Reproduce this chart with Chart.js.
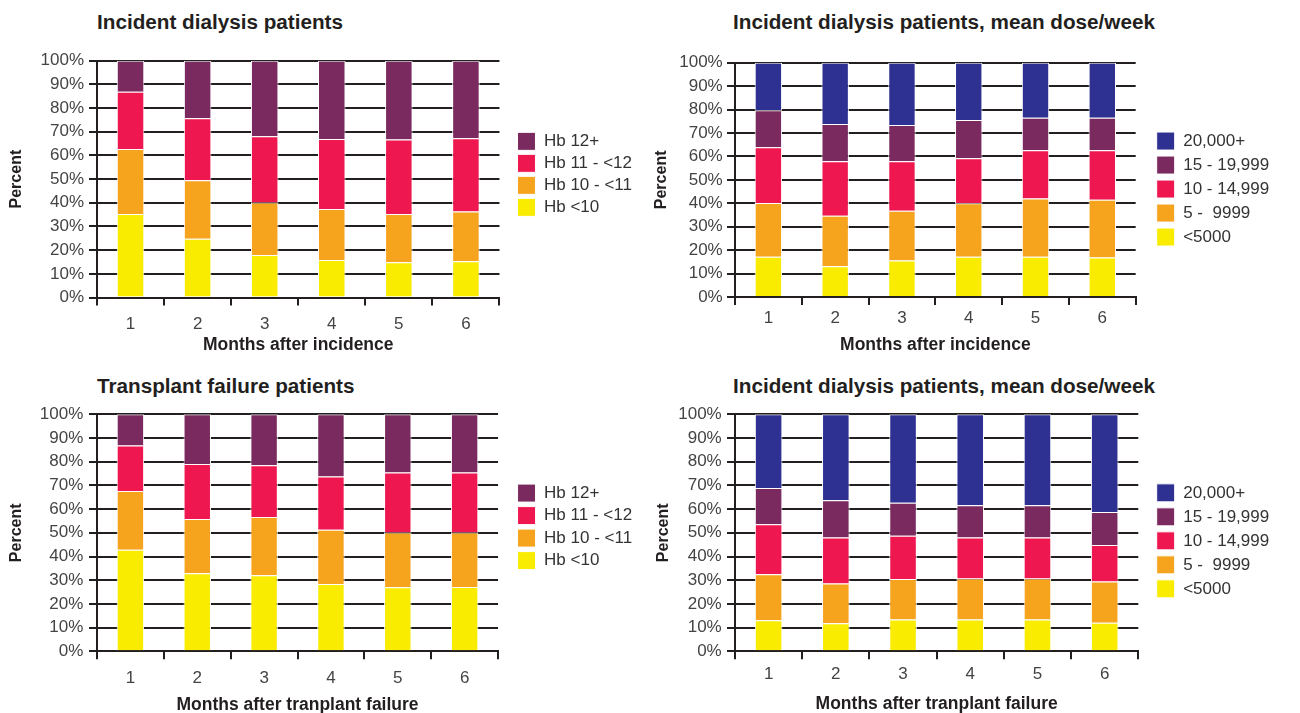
<!DOCTYPE html>
<html>
<head>
<meta charset="utf-8">
<script src="https://cdn.jsdelivr.net/npm/chart.js@4"></script>
<style>
body { margin: 0; width: 1300px; height: 713px; overflow: hidden; background: #fff; position: relative; font-family: 'Liberation Sans', Arial, sans-serif; }
.title { position: absolute; font-weight: bold; font-size: 20.7px; line-height: 20px; color: #231f20; white-space: nowrap; }
canvas { position: absolute; }
</style>
</head>
<body>
<div class="title" style="left:97px; top:12px">Incident dialysis patients</div>
<div class="title" style="left:733px; top:12px">Incident dialysis patients, mean dose/week</div>
<div class="title" style="left:97px; top:376px">Transplant failure patients</div>
<div class="title" style="left:733px; top:376px">Incident dialysis patients, mean dose/week</div>

<canvas id="c1" width="650" height="320" style="left:0; top:40px"></canvas>
<canvas id="c2" width="660" height="320" style="left:640px; top:40px"></canvas>
<canvas id="c3" width="650" height="325" style="left:0; top:395px"></canvas>
<canvas id="c4" width="660" height="325" style="left:640px; top:395px"></canvas>

<script>
// categories and series names
const months = ['1', '2', '3', '4', '5', '6'];
const hbLabels = ['Hb <10', 'Hb 10 - <11', 'Hb 11 - <12', 'Hb 12+'];
const doseLabels = ['<5000', '5 -  9999', '10 - 14,999', '15 - 19,999', '20,000+'];

// incident dialysis patients, Hb (percent)
const incHbLt10   = [35.3, 24.8, 18.0, 15.8, 14.9, 15.3];
const incHb10to11 = [27.4, 24.7, 22.1, 21.6, 20.4, 21.0];
const incHb11to12 = [24.2, 26.2, 28.0, 29.5, 31.4, 30.9];
const incHb12plus = [13.1, 24.3, 31.9, 33.1, 33.3, 32.8];

// incident dialysis patients, mean dose/week (percent)
const incDoseLt5000   = [17.2, 13.1, 15.6, 17.2, 17.2, 16.9];
const incDose5to9999  = [22.9, 21.6, 21.2, 22.8, 24.8, 24.6];
const incDose10to14   = [23.8, 23.2, 21.1, 19.2, 20.6, 21.1];
const incDose15to19   = [15.8, 15.9, 15.5, 16.3, 13.9, 13.9];
const incDose20kplus  = [20.3, 26.2, 26.6, 24.5, 23.5, 23.5];

// transplant failure patients, Hb (percent)
const txHbLt10   = [42.8, 32.9, 32.1, 28.4, 27.0, 27.1];
const txHb10to11 = [24.8, 22.9, 24.6, 22.9, 23.1, 23.0];
const txHb11to12 = [19.2, 23.2, 21.8, 22.5, 25.3, 25.3];
const txHb12plus = [13.2, 21.0, 21.5, 26.2, 24.6, 24.6];

// transplant failure patients, mean dose/week (percent)
const txDoseLt5000  = [13.1, 11.8, 13.4, 13.4, 13.4, 12.0];
const txDose5to9999 = [19.4, 16.8, 17.1, 17.3, 17.3, 17.4];
const txDose10to14  = [21.1, 19.4, 18.3, 17.3, 17.3, 15.5];
const txDose15to19  = [15.3, 15.7, 13.9, 13.6, 13.6, 13.9];
const txDose20kplus = [31.1, 36.3, 37.3, 38.4, 38.4, 41.2];

const hbColors = ['#f9ec00', '#f6a31e', '#ee1750', '#7a2a5e'];
const doseColors = ['#f9ec00', '#f6a31e', '#ee1750', '#7a2a5e', '#2e3192'];

const FONT = "'Liberation Sans', Arial, sans-serif";
const INK = '#231f20';

// moves the legend box a little away from the plot
const legendNudge = {
    id: 'legendNudge',
    afterLayout(chart, args, opts) {
        const lg = chart.legend;
        if (!lg) return;
        lg.left += opts.x; lg.right += opts.x;
        lg.top += opts.y; lg.bottom += opts.y;
    }
};

function makeChart(id, names, series, colors, xTitle, lay) {
    return new Chart(document.getElementById(id), {
        type: 'bar',
        data: {
            labels: months,
            datasets: series.map((d, i) => ({
                label: names[i],
                data: d,
                backgroundColor: colors[i],
                borderColor: '#ffffff',
                borderWidth: 1,
                barPercentage: 0.41,
                categoryPercentage: 1
            }))
        },
        options: {
            responsive: false,
            animation: false,
            layout: { padding: { top: lay.top, right: lay.right, bottom: 0, left: 0 } },
            plugins: {
                legend: {
                    position: 'right',
                    reverse: true,
                    labels: { boxWidth: 18, boxHeight: 18, padding: lay.legendGap, color: '#333', font: { size: 17, family: FONT } }
                },
                tooltip: { enabled: false },
                legendNudge: { x: lay.nudgeX, y: lay.nudgeY }
            },
            scales: {
                x: {
                    stacked: true,
                    afterFit: s => { s.height = lay.xHeight; },
                    grid: { drawOnChartArea: false, color: INK, lineWidth: 2, tickLength: 8 },
                    border: { color: INK, width: 2 },
                    ticks: { color: '#444', padding: lay.xPad, font: { size: 17, family: FONT } },
                    title: { display: true, text: xTitle, color: INK, padding: { top: 0, bottom: lay.xTitlePad }, font: { size: 17.5, weight: 'bold', family: FONT } }
                },
                y: {
                    stacked: true,
                    min: 0,
                    max: 100,
                    afterFit: s => { s.width = lay.yWidth; },
                    grid: { color: INK, lineWidth: 2, tickLength: 8 },
                    border: { color: INK, width: 2 },
                    ticks: { stepSize: 10, color: '#444', padding: lay.yPad, font: { size: 17, family: FONT }, callback: v => v + '%' },
                    title: { display: true, text: 'Percent', color: INK, padding: { top: lay.yTitlePad, bottom: 0 }, font: { size: 16, weight: 'bold', family: FONT } }
                }
            }
        },
        plugins: [legendNudge]
    });
}

makeChart('c1', hbLabels, [incHbLt10, incHb10to11, incHb11to12, incHb12plus], hbColors,
    'Months after incidence',
    { top: 20.7, right: 22, xHeight: 62.5, xPad: 8.3, xTitlePad: 4, yWidth: 97, yPad: 5, yTitlePad: 6.9, legendGap: 4, nudgeX: 14, nudgeY: -36 });

makeChart('c2', doseLabels, [incDoseLt5000, incDose5to9999, incDose10to14, incDose15to19, incDose20kplus], doseColors,
    'Months after incidence',
    { top: 22.7, right: 35.8, xHeight: 63, xPad: 3.6, xTitlePad: 4, yWidth: 95, yPad: 4.3, yTitlePad: 12.4, legendGap: 6, nudgeX: 15, nudgeY: -22.3 });

makeChart('c3', hbLabels, [txHbLt10, txHb10to11, txHb11to12, txHb12plus], hbColors,
    'Months after tranplant failure',
    { top: 19.3, right: 22.9, xHeight: 68.7, xPad: 8.6, xTitlePad: 4.5, yWidth: 97, yPad: 5.7, yTitlePad: 7.2, legendGap: 4.5, nudgeX: 15, nudgeY: -40.3 });

makeChart('c4', doseLabels, [txDoseLt5000, txDose5to9999, txDose10to14, txDose15to19, txDose20kplus], doseColors,
    'Months after tranplant failure',
    { top: 19.3, right: 33.2, xHeight: 68.7, xPad: 5.3, xTitlePad: 5, yWidth: 95, yPad: 5.3, yTitlePad: 13.6, legendGap: 6, nudgeX: 12.4, nudgeY: -26.3 });
</script>
</body>
</html>
